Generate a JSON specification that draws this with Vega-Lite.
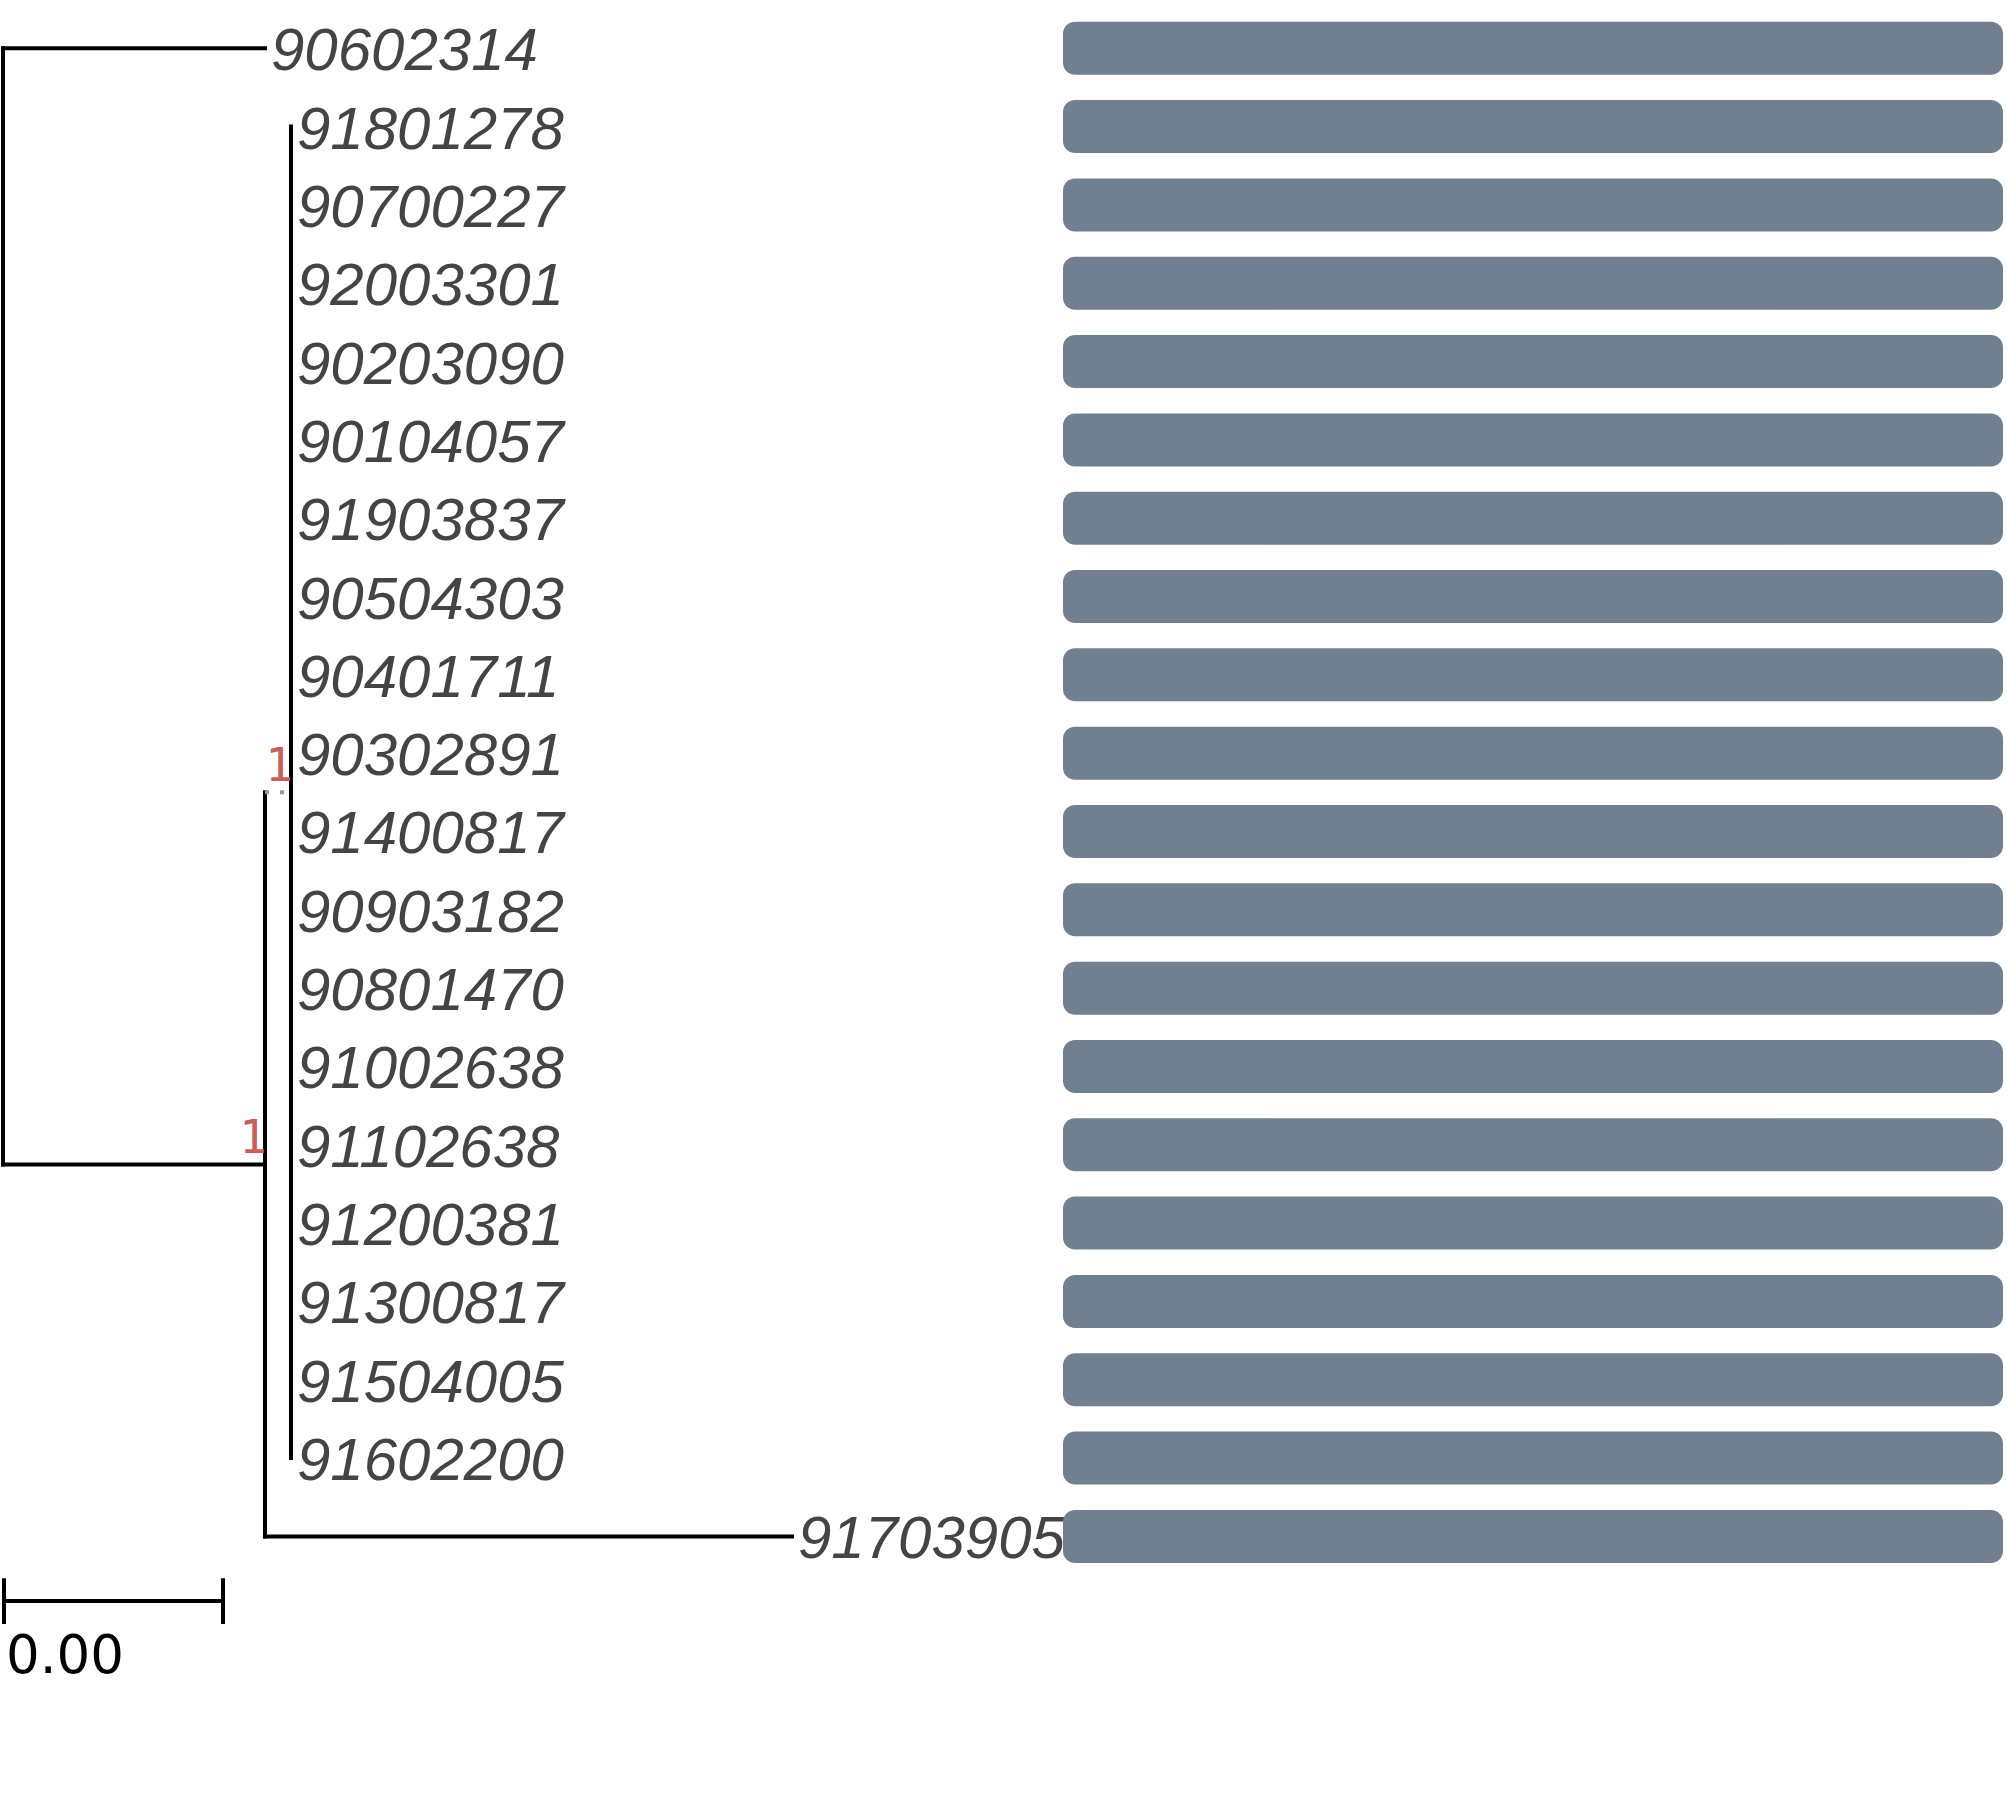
{
  "$schema": "https://vega.github.io/schema/vega-lite/v6.json",
  "width": 2007,
  "height": 1802,
  "padding": 0,
  "autosize": {"type": "none"},
  "background": "white",
  "config": {"view": {"stroke": null}},
  "datasets": {
    "leaves": [
      {"name": "90602314", "row": 0, "tip": 0.004807, "value": 1},
      {"name": "91801278", "row": 1, "tip": 0.005284, "value": 1},
      {"name": "90700227", "row": 2, "tip": 0.005284, "value": 1},
      {"name": "92003301", "row": 3, "tip": 0.005284, "value": 1},
      {"name": "90203090", "row": 4, "tip": 0.005284, "value": 1},
      {"name": "90104057", "row": 5, "tip": 0.005284, "value": 1},
      {"name": "91903837", "row": 6, "tip": 0.005284, "value": 1},
      {"name": "90504303", "row": 7, "tip": 0.005284, "value": 1},
      {"name": "90401711", "row": 8, "tip": 0.005284, "value": 1},
      {"name": "90302891", "row": 9, "tip": 0.005284, "value": 1},
      {"name": "91400817", "row": 10, "tip": 0.005284, "value": 1},
      {"name": "90903182", "row": 11, "tip": 0.005284, "value": 1},
      {"name": "90801470", "row": 12, "tip": 0.005284, "value": 1},
      {"name": "91002638", "row": 13, "tip": 0.005284, "value": 1},
      {"name": "91102638", "row": 14, "tip": 0.005284, "value": 1},
      {"name": "91200381", "row": 15, "tip": 0.005284, "value": 1},
      {"name": "91300817", "row": 16, "tip": 0.005284, "value": 1},
      {"name": "91504005", "row": 17, "tip": 0.005284, "value": 1},
      {"name": "91602200", "row": 18, "tip": 0.005284, "value": 1},
      {"name": "91703905", "row": 19, "tip": 0.014477, "value": 1}
    ],
    "branches": [
      {"x": 0, "x2": 0, "y": 0, "y2": 14.25, "kind": "solid"},
      {"x": 0, "x2": 0.004807, "y": 0, "y2": 0, "kind": "solid"},
      {"x": 0, "x2": 0.004807, "y": 14.25, "y2": 14.25, "kind": "solid"},
      {"x": 0.004807, "x2": 0.004807, "y": 9.5, "y2": 19, "kind": "solid"},
      {"x": 0.004807, "x2": 0.014477, "y": 19, "y2": 19, "kind": "solid"},
      {"x": 0.005284, "x2": 0.005284, "y": 1, "y2": 18, "kind": "solid"},
      {"x": 0.004807, "x2": 0.005284, "y": 9.5, "y2": 9.5, "kind": "dotted"}
    ],
    "nodes": [
      {"x": 0.005284, "y": 9.5, "support": "1"},
      {"x": 0.004807, "y": 14.25, "support": "1"}
    ],
    "treescale": [
      {"x": 0.000018, "x2": 0.004037, "y": 19.826, "y2": 19.826},
      {"x": 0.000018, "x2": 0.000018, "y": 19.534, "y2": 20.118},
      {"x": 0.004037, "x2": 0.004037, "y": 19.534, "y2": 20.118}
    ],
    "scalelabel": [
      {"x": 0.000018, "y": 20.75, "label": "0.00"}
    ]
  },
  "resolve": {"scale": {"x": "independent"}},
  "layer": [
    {
      "layer": [
        {
          "data": {"name": "branches"},
          "transform": [{"filter": "datum.kind === 'solid'"}],
          "mark": {"type": "rule", "color": "black", "strokeWidth": 4, "strokeCap": "square"},
          "encoding": {
            "x": {"field": "x", "type": "quantitative", "axis": null,
                  "scale": {"domain": [-0.000055, 0.036771], "nice": false, "zero": false}},
            "x2": {"field": "x2"},
            "y": {"field": "y", "type": "quantitative", "axis": null,
                  "scale": {"domain": [-0.5523, 22.327], "nice": false, "zero": false, "reverse": true}},
            "y2": {"field": "y2"}
          }
        },
        {
          "data": {"name": "branches"},
          "transform": [{"filter": "datum.kind === 'dotted'"}],
          "mark": {"type": "rule", "color": "#999999", "strokeWidth": 4, "strokeDash": [4, 11]},
          "encoding": {
            "x": {"field": "x", "type": "quantitative", "axis": null},
            "x2": {"field": "x2"},
            "y": {"field": "y", "type": "quantitative", "axis": null},
            "y2": {"field": "y2"}
          }
        },
        {
          "data": {"name": "treescale"},
          "mark": {"type": "rule", "color": "black", "strokeWidth": 4},
          "encoding": {
            "x": {"field": "x", "type": "quantitative", "axis": null},
            "x2": {"field": "x2"},
            "y": {"field": "y", "type": "quantitative", "axis": null},
            "y2": {"field": "y2"}
          }
        },
        {
          "data": {"name": "scalelabel"},
          "mark": {"type": "text", "font": "DejaVu Sans", "fontSize": 53, "color": "black",
                   "align": "left", "baseline": "alphabetic", "dx": 2},
          "encoding": {
            "x": {"field": "x", "type": "quantitative", "axis": null},
            "y": {"field": "y", "type": "quantitative", "axis": null},
            "text": {"field": "label"}
          }
        },
        {
          "data": {"name": "leaves"},
          "mark": {"type": "text", "font": "Liberation Sans", "fontStyle": "italic", "fontSize": 60,
                   "color": "#444444", "align": "left", "baseline": "middle", "dx": 6, "dy": 4},
          "encoding": {
            "x": {"field": "tip", "type": "quantitative", "axis": null},
            "y": {"field": "row", "type": "quantitative", "axis": null},
            "text": {"field": "name"}
          }
        },
        {
          "data": {"name": "nodes"},
          "mark": {"type": "text", "font": "DejaVu Sans Mono", "fontSize": 46, "color": "#CD5C5C",
                   "align": "right", "baseline": "alphabetic", "dx": 2, "dy": -11},
          "encoding": {
            "x": {"field": "x", "type": "quantitative", "axis": null},
            "y": {"field": "y", "type": "quantitative", "axis": null},
            "text": {"field": "support"}
          }
        }
      ]
    },
    {
      "data": {"name": "leaves"},
      "mark": {"type": "bar", "orient": "horizontal", "height": 53, "cornerRadius": 12, "color": "#708090"},
      "encoding": {
        "x": {"field": "value", "type": "quantitative", "axis": null,
              "scale": {"domain": [-1.13085, 1.00426], "nice": false, "zero": false}},
        "x2": {"datum": 0},
        "y": {"field": "row", "type": "quantitative", "axis": null}
      }
    }
  ]
}
